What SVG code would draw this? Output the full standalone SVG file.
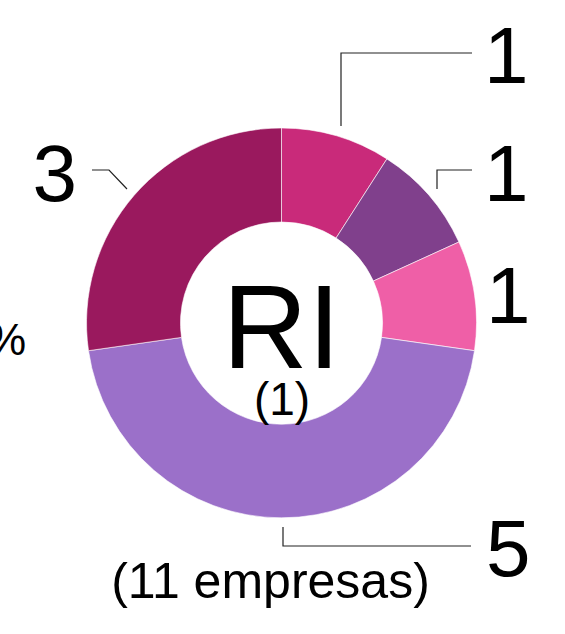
<svg xmlns="http://www.w3.org/2000/svg" width="565" height="634" viewBox="0 0 565 634">
<style>
.seg{stroke:#ffffff;stroke-width:0.6}
.lbl{font-family:"Liberation Sans",Arial,Helvetica,sans-serif;fill:#000}
.big{font-size:80px}
.lead{fill:none;stroke:#222222;stroke-width:1.2}
</style>
<rect width="565" height="634" fill="#ffffff"/>
<g id="donut">
<g id="seg1"><path class="seg" fill="#C92A7A" d="M281.5,128 A195,195 0 0 1 386.9,158.9 L336.1,238 A101,101 0 0 0 281.5,222 Z"/></g>
<g id="seg2"><path class="seg" fill="#80408C" d="M386.9,158.9 A195,195 0 0 1 458.9,242 L373.4,281 A101,101 0 0 0 336.1,238 Z"/></g>
<g id="seg3"><path class="seg" fill="#EF5FA7" d="M458.9,242 A195,195 0 0 1 474.5,350.7 L381.5,337.4 A101,101 0 0 0 373.4,281 Z"/></g>
<g id="seg4"><path class="seg" fill="#9B70C9" d="M474.5,350.7 A195,195 0 0 1 88.5,350.7 L181.5,337.4 A101,101 0 0 0 381.5,337.4 Z"/></g>
<g id="seg5"><path class="seg" fill="#9A195E" d="M88.5,350.7 A195,195 0 0 1 281.5,128 L281.5,222 A101,101 0 0 0 181.5,337.4 Z"/></g>
</g>
<g id="connectors">
<polyline class="lead" points="341,126 341,53 472,53"/>
<polyline class="lead" points="437,189 437,170 472,170"/>
<polyline class="lead" points="127,189 109,170 92,170"/>
<polyline class="lead" points="283,527 283,546 471,546"/>
</g>
<g id="center-label">
<text class="lbl" x="281.5" y="368" font-size="118" text-anchor="middle">RI</text>
<text class="lbl" x="282" y="415" font-size="46" text-anchor="middle">(1)</text>
</g>
<g id="label-1a"><text class="lbl big" x="484" y="83">1</text></g>
<g id="label-1b"><text class="lbl big" x="484" y="201">1</text></g>
<g id="label-1c"><text class="lbl big" x="486" y="323">1</text></g>
<g id="label-3"><text class="lbl big" x="77" y="201" text-anchor="end">3</text></g>
<g id="label-5"><text class="lbl big" x="486" y="576">5</text></g>
<g id="label-pct"><text class="lbl" x="26" y="355" font-size="44" text-anchor="end">%</text></g>
<g id="total"><text class="lbl" x="270.5" y="598" font-size="50" text-anchor="middle">(11 empresas)</text></g>
</svg>
